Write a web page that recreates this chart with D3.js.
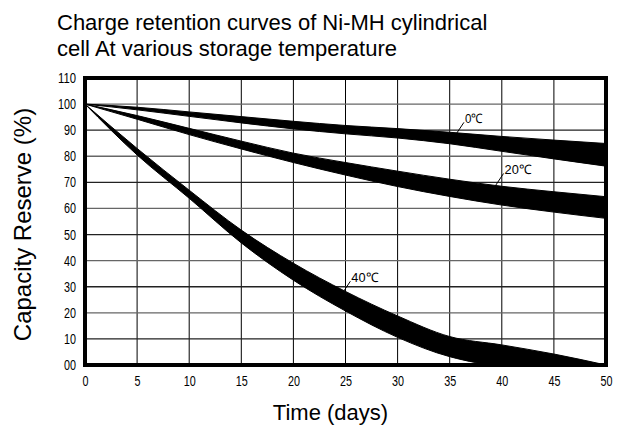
<!DOCTYPE html>
<html>
<head>
<meta charset="utf-8">
<script src="https://cdn.jsdelivr.net/npm/d3@7"></script>
<style>
	body { margin: 0; background: #fff; }
	svg { display: block; }
	.tick text { font-family: "Liberation Sans", Arial, sans-serif; font-size: 14px; fill: #000; }
	.big { font-family: "Liberation Sans", Arial, sans-serif; font-size: 22px; fill: #000; }
	.lbl { font-family: "Liberation Sans", Arial, sans-serif; font-size: 13px; fill: #000; }
</style>
</head>
<body>
<div id="chart"></div>
<script>
// days on the x axis
const days = [0, 5, 10, 15, 20, 25, 30, 35, 40, 45, 50];

// each curve is a band between an upper and lower edge (capacity %)
const t0Upper  = [100, 98.8, 97.0, 95.2, 93.4, 91.8, 90.6, 89.2, 87.6, 86.2, 84.9];
const t0Lower  = [100, 97.8, 95.3, 92.8, 90.5, 88.6, 87.0, 84.8, 81.9, 79.0, 76.2];
const t20Upper = [100, 95.6, 90.7, 85.8, 81.2, 77.6, 74.3, 71.2, 68.5, 66.4, 64.5];
const t20Lower = [100, 94.2, 88.3, 82.8, 77.6, 72.8, 68.4, 64.6, 61.3, 58.6, 56.2];
const t40Upper = [100, 83.0, 67.0, 51.7, 39.0, 28.2, 18.8, 10.9, 7.7, 4.2, 0];
const t40Lower = [100, 80.5, 63.9, 46.8, 32.5, 20.7, 10.6, 3.2, 0, 0, 0];

const xTicks = [0, 5, 10, 15, 20, 25, 30, 35, 40, 45, 50];
const yTicks = [0, 10, 20, 30, 40, 50, 60, 70, 80, 90, 100, 110];

// label text and the point on the band where its leader line starts
const curveLabels = [
	{ text: '0℃', day: 35.6, value: 88.4 },
	{ text: '20℃', day: 39.4, value: 68.8 },
	{ text: '40℃', day: 24.7, value: 27.5 }
];

const width = 635, height = 429;
const margin = { top: 78, right: 29, bottom: 64, left: 85 };

const svg = d3.select('#chart').append('svg')
	.attr('width', width)
	.attr('height', height);

const x = d3.scaleLinear().domain([0, 50]).range([margin.left, width - margin.right]);
const y = d3.scaleLinear().domain([0, 110]).range([height - margin.bottom, margin.top]);

// grid
svg.append('g').selectAll('line')
	.data(xTicks.slice(1, -1))
	.enter().append('line')
	.attr('x1', d => x(d)).attr('x2', d => x(d))
	.attr('y1', y(110)).attr('y2', y(0))
	.attr('stroke', '#000').attr('stroke-width', 1);

svg.append('g').selectAll('line')
	.data(yTicks.slice(1, -1))
	.enter().append('line')
	.attr('x1', x(0)).attr('x2', x(50))
	.attr('y1', d => y(d)).attr('y2', d => y(d))
	.attr('stroke', d => d % 20 === 0 ? '#666' : '#222').attr('stroke-width', 1.3);

// bands
function band(upper, lower) {
	const pts = days.map((d, i) => ({ d: d, hi: upper[i], lo: lower[i] }));
	const area = d3.area()
		.x(p => x(p.d))
		.y0(p => y(p.lo))
		.y1(p => y(p.hi))
		.curve(d3.curveMonotoneX);
	svg.append('path')
		.datum(pts)
		.attr('d', area)
		.attr('fill', '#000')
		.attr('stroke', '#000')
		.attr('stroke-width', 1);
}
band(t0Upper, t0Lower);
band(t20Upper, t20Lower);
band(t40Upper, t40Lower);

// frame
svg.append('rect')
	.attr('x', x(0)).attr('y', y(110))
	.attr('width', x(50) - x(0)).attr('height', y(0) - y(110))
	.attr('fill', 'none').attr('stroke', '#000').attr('stroke-width', 4);

// axes, digits squeezed narrow like the original
const xAxis = svg.append('g')
	.attr('transform', `translate(0,${y(0)})`)
	.call(d3.axisBottom(x).tickValues(xTicks).tickSize(0).tickPadding(11));
xAxis.select('.domain').remove();

const yAxis = svg.append('g')
	.attr('transform', `translate(${x(0)},0)`)
	.call(d3.axisLeft(y).tickValues(yTicks).tickSize(0).tickPadding(9)
		.tickFormat(d => d === 0 ? '00' : d));
yAxis.select('.domain').remove();

svg.selectAll('.tick text')
	.attr('textLength', function() { return this.textContent.length * 6; })
	.attr('lengthAdjust', 'spacingAndGlyphs');

// curve labels with leader lines
curveLabels.forEach(l => {
	const px = x(l.day), py = y(l.value);
	svg.append('line')
		.attr('x1', px).attr('y1', py)
		.attr('x2', px + 8).attr('y2', py - 12)
		.attr('stroke', '#000').attr('stroke-width', 1);
	svg.append('text')
		.attr('class', 'lbl')
		.attr('x', px + 9).attr('y', py - 11)
		.attr('textLength', l.text.length * 9)
		.attr('lengthAdjust', 'spacingAndGlyphs')
		.text(l.text);
});

// titles
svg.append('text').attr('class', 'big')
	.attr('x', 57).attr('y', 30)
	.text('Charge retention curves of Ni-MH cylindrical');
svg.append('text').attr('class', 'big')
	.attr('x', 57).attr('y', 56)
	.text('cell At various storage temperature');

svg.append('text').attr('class', 'big')
	.attr('x', (x(0) + x(50)) / 2 - 15).attr('y', 420)
	.attr('text-anchor', 'middle')
	.text('Time (days)');

svg.append('text').attr('class', 'big')
	.style('font-size', '24px')
	.attr('transform', `translate(31,${(y(0) + y(110)) / 2 + 3}) rotate(-90)`)
	.attr('text-anchor', 'middle')
	.text('Capacity Reserve (%)');
</script>
</body>
</html>
